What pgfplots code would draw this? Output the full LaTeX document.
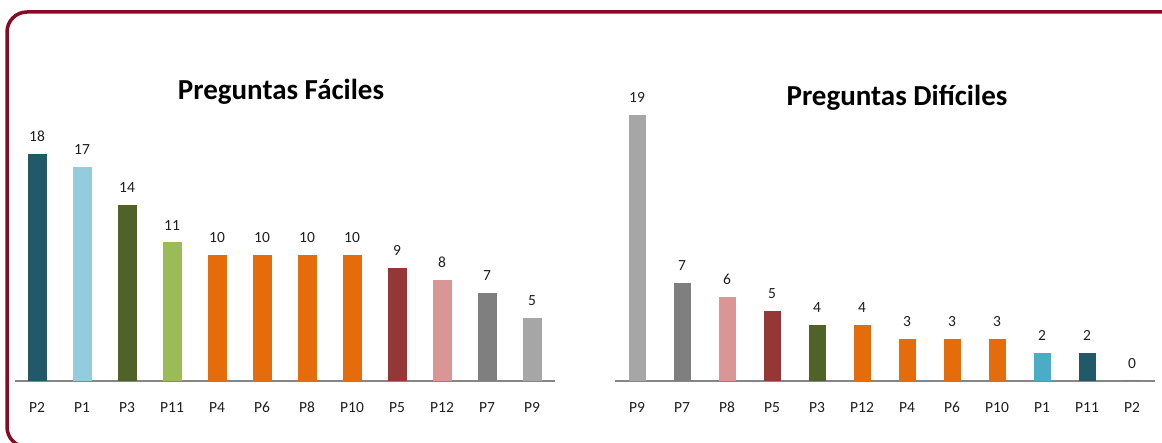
\documentclass[border=0pt]{standalone}
\usepackage{fontspec}
\setmainfont{Carlito}
\usepackage{pgfplots}
\pgfplotsset{compat=1.18}
\definecolor{frame}{RGB}{139,10,35}
\definecolor{axisgray}{RGB}{134,134,134}
\definecolor{txt}{RGB}{30,30,30}
\definecolor{cTeal}{HTML}{215968}
\definecolor{cLBlue}{HTML}{93CDDD}
\definecolor{cBlue}{HTML}{4BACC6}
\definecolor{cOlive}{HTML}{4F6228}
\definecolor{cLGreen}{HTML}{9BBB59}
\definecolor{cOrange}{HTML}{E46C0A}
\definecolor{cDRed}{HTML}{953735}
\definecolor{cPink}{HTML}{D99694}
\definecolor{cGray}{HTML}{7F7F7F}
\definecolor{cLGray}{HTML}{A6A6A6}
\pgfplotsset{
  barchart/.style={
    scale only axis, width=540pt,
    xmin=-0.5, xmax=11.5, ymin=0, ymax=20,
    axis x line=bottom, axis y line=none,
    axis line style={draw=axisgray, line width=1.5pt, -},
    xtick={0,...,11}, major tick length=0pt,
    xticklabel style={font=\fontsize{15.5}{18}\selectfont, text=txt, anchor=north, inner sep=0pt, yshift=-21pt},
    /pgf/number format/assume math mode=true,
    nodes near coords,
    nodes near coords style={font=\fontsize{15.5}{18}\selectfont, text=txt, anchor=south, inner sep=0pt, yshift=12pt},
    clip=false,
  },
  b/.style={ybar, bar shift=0pt, fill=#1, draw=none},
}
\begin{document}
\begin{tikzpicture}
\useasboundingbox (0pt,0pt) rectangle (1162pt,443pt);
\begin{scope}
\clip (0pt,0pt) rectangle (1162pt,443pt);
\draw[frame, line width=3.5pt, rounded corners=20pt] (1200pt,-4pt) -- (7pt,-4pt) -- (7pt,431pt) -- (1200pt,431pt);
\end{scope}
\node[font=\bfseries\fontsize{29}{34}\selectfont, anchor=base] at (281pt,343pt) {Preguntas Fáciles};
\node[font=\bfseries\fontsize{29}{34}\selectfont, anchor=base] at (897pt,337pt) {Preguntas Difíciles};

\begin{scope}[shift={(14.5pt,62pt)}]
\begin{axis}[barchart, height=252pt, bar width=19pt,
  xticklabels={P2,P1,P3,P11,P4,P6,P8,P10,P5,P12,P7,P9}]
\addplot[b=cTeal]   coordinates {(0,18)};
\addplot[b=cLBlue]  coordinates {(1,17)};
\addplot[b=cOlive]  coordinates {(2,14)};
\addplot[b=cLGreen] coordinates {(3,11)};
\addplot[b=cOrange] coordinates {(4,10)};
\addplot[b=cOrange] coordinates {(5,10)};
\addplot[b=cOrange] coordinates {(6,10)};
\addplot[b=cOrange] coordinates {(7,10)};
\addplot[b=cDRed]   coordinates {(8,9)};
\addplot[b=cPink]   coordinates {(9,8)};
\addplot[b=cGray]   coordinates {(10,7)};
\addplot[b=cLGray]  coordinates {(11,5)};
\end{axis}
\end{scope}

\begin{scope}[shift={(614.5pt,62pt)}]
\begin{axis}[barchart, height=280pt, bar width=17pt,
  xticklabels={P9,P7,P8,P5,P3,P12,P4,P6,P10,P1,P11,P2}]
\addplot[b=cLGray]  coordinates {(0,19)};
\addplot[b=cGray]   coordinates {(1,7)};
\addplot[b=cPink]   coordinates {(2,6)};
\addplot[b=cDRed]   coordinates {(3,5)};
\addplot[b=cOlive]  coordinates {(4,4)};
\addplot[b=cOrange] coordinates {(5,4)};
\addplot[b=cOrange] coordinates {(6,3)};
\addplot[b=cOrange] coordinates {(7,3)};
\addplot[b=cOrange] coordinates {(8,3)};
\addplot[b=cBlue]   coordinates {(9,2)};
\addplot[b=cTeal]   coordinates {(10,2)};
\addplot[b=cTeal]   coordinates {(11,0)};
\end{axis}
\end{scope}
\end{tikzpicture}
\end{document}
